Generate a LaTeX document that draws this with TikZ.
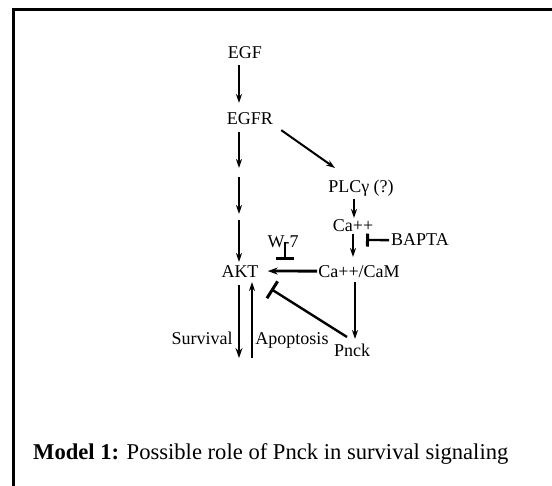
\documentclass[tikz,border=0pt]{standalone}
\usepackage{fontspec}
\setmainfont{Liberation Serif}
\usetikzlibrary{arrows.meta}
\begin{document}
\begin{tikzpicture}[x=1pt,y=-1pt,
  lbl/.style={inner sep=0pt,anchor=base,font=\fontsize{18}{21}\selectfont},
  arr/.style={line width=1.8pt,-{Stealth[length=9pt,width=6pt]}},
  thickarr/.style={line width=2.8pt,-{Stealth[length=10pt,width=7pt]}},
  inh/.style={line width=2.4pt,-{Bar[width=#1,line width=3pt]}},
  inh/.default=14pt]
\useasboundingbox (0,0) rectangle (552,486);
\draw[line width=2.6pt] (13.5,486) -- (13.5,9.5) -- (552,9.5);
% nodes
\node[lbl] (egf) at (245,59) {EGF};
\node[lbl] (egfr) at (250,125) {EGFR};
\node[lbl] (plc) at (361,193) {PLCγ (?)};
\node[lbl] (ca) at (353,232) {Ca++};
\node[lbl] (bapta) at (420,246) {BAPTA};
\node[lbl] (cam) at (359,278) {Ca++/CaM};
\node[lbl] (akt) at (240,278) {AKT};
\node[lbl] (w7) at (283,248) {W-7};
\node[lbl] (surv) at (202,345) {Survival};
\node[lbl] (apop) at (292,345) {Apoptosis};
\node[lbl] (pnck) at (352,357) {Pnck};
\node[inner sep=0pt,anchor=base west,font=\fontsize{22.6}{26}\selectfont] (cap) at (33,460) {\textbf{Model 1:} Possible role of Pnck in survival signaling};
% joints on the EGFR to AKT chain
\coordinate (j1) at (239,168);
\coordinate (j2) at (239,177);
\coordinate (j3) at (239,214);
\coordinate (j4) at (239,220);
% connectors
\draw[arr] ([yshift=-6pt]egf.base -| j1) -- ([yshift=22pt]egfr.base -| j1);
\draw[arr] ([yshift=-7pt]egfr.base -| j1) -- (j1);
\draw[arr] (j2) -- (j3);
\draw[arr] (j4) -- ([yshift=16pt]akt.base -| j4);
\draw[arr, line width=2pt] ([xshift=8pt,yshift=-11pt]egfr.east) -- ([yshift=25pt]plc.base -| 335,0);
\draw[arr] ([yshift=-6pt]plc.base -| 354,0) -- ([yshift=14pt]ca.base -| 354,0);
\draw[arr] ([yshift=-2pt]ca.base -| 353,0) -- ([yshift=21pt]cam.base -| 353,0);
\draw[inh=13pt] ([xshift=-2pt]bapta.west) -- (366,240);
\draw[thickarr] ([xshift=-1pt,yshift=1pt]cam.west) -- ([xshift=9pt,yshift=1pt]akt.east);
\draw[inh=18pt] ([xshift=2pt,yshift=6pt]w7.base) -- ([xshift=2pt,yshift=-12pt]w7.base);
\draw[arr] ([yshift=-4pt]cam.base -| 355,0) -- ([yshift=18pt]pnck.base -| 355,0);
\draw[inh=20pt] (347,337) -- (271,289);
\draw[thickarr] (239,285) -- (239,358);
\draw[arr] (252,358) -- (252,282);
\end{tikzpicture}
\end{document}
